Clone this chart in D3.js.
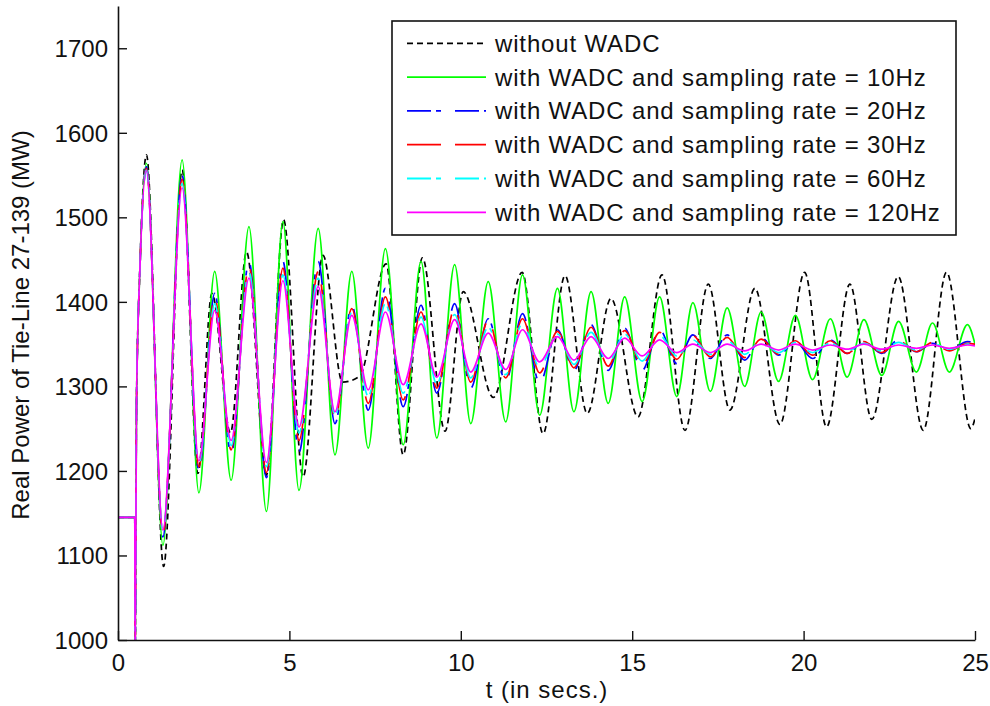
<!DOCTYPE html>
<html>
<head>
<meta charset="utf-8">
<script src="https://cdn.jsdelivr.net/npm/d3@7"></script>
<style>
  html, body { margin: 0; padding: 0; background: #fff; }
  svg { display: block; }
  text { font-family: "Liberation Sans", Arial, sans-serif; fill: #111; }
</style>
</head>
<body>
<svg id="chart" width="990" height="706"></svg>
<script>
// ---- axis ticks ----
const xTicks = [0, 5, 10, 15, 20, 25];
const yTicks = [1000, 1100, 1200, 1300, 1400, 1500, 1600, 1700];

// ---- pre-fault / fault segment shared by every trace (t in s, MW) ----
const tStart = [0, 0.49, 0.5, 0.54, 0.64];
const vStart = [1145, 1145, 985, 1280, 1440];

// ---- swing extrema of the controlled cases (common time base) ----
const tWadc = [0.83, 1.31, 1.87, 2.36, 2.82, 3.3, 3.82, 4.33, 4.81, 5.28,
  5.84, 6.33, 6.82, 7.3, 7.8, 8.32, 8.84, 9.3, 9.82, 10.29,
  10.8, 11.31, 11.8, 12.3, 12.82, 13.3, 13.8, 14.3, 14.78, 15.29,
  15.8, 16.3, 16.77, 17.28, 17.77, 18.28, 18.76, 19.27, 19.76, 20.26,
  20.78, 21.27, 21.76, 22.28, 22.77, 23.29, 23.76, 24.25, 24.78, 25];

const p10Hz = [1564, 1112, 1568, 1174, 1436, 1189, 1489, 1152, 1495, 1177,
  1487, 1219, 1436, 1227, 1463, 1231, 1448, 1239, 1444, 1256,
  1424, 1258, 1432, 1266, 1416, 1270, 1412, 1280, 1406, 1282,
  1406, 1288, 1399, 1294, 1393, 1300, 1388, 1306, 1384, 1308,
  1380, 1311, 1379, 1313, 1377, 1317, 1375, 1317, 1373, 1350];

const p20Hz = [1560, 1122, 1550, 1200, 1410, 1220, 1448, 1192, 1448, 1222,
  1448, 1256, 1396, 1272, 1416, 1276, 1396, 1292, 1398, 1298,
  1380, 1306, 1386, 1304, 1367, 1319, 1373, 1319, 1369, 1319,
  1367, 1327, 1361, 1333, 1361, 1331, 1358, 1337, 1353, 1333,
  1355, 1339, 1353, 1339, 1355, 1341, 1351, 1343, 1353, 1352];

const p30Hz = [1558, 1125, 1545, 1205, 1405, 1225, 1442, 1198, 1440, 1236,
  1436, 1262, 1392, 1280, 1406, 1284, 1388, 1298, 1392, 1305,
  1378, 1310, 1380, 1316, 1365, 1322, 1370, 1324, 1366, 1325,
  1364, 1332, 1360, 1335, 1358, 1334, 1356, 1338, 1354, 1337,
  1354, 1339, 1353, 1340, 1354, 1341, 1352, 1342, 1351, 1350];

const p60Hz = [1556, 1128, 1540, 1208, 1398, 1230, 1436, 1205, 1432, 1245,
  1428, 1266, 1388, 1288, 1398, 1292, 1382, 1303, 1385, 1310,
  1370, 1314, 1375, 1322, 1362, 1326, 1364, 1328, 1362, 1330,
  1360, 1336, 1355, 1338, 1354, 1338, 1353, 1340, 1352, 1340,
  1351, 1342, 1351, 1342, 1352, 1343, 1351, 1344, 1350, 1349];

const p120Hz = [1555, 1130, 1535, 1212, 1390, 1236, 1428, 1210, 1425, 1252,
  1418, 1270, 1384, 1296, 1388, 1302, 1374, 1311, 1379, 1317,
  1363, 1320, 1367, 1329, 1359, 1331, 1359, 1333, 1357, 1336,
  1355, 1340, 1350, 1340, 1350, 1342, 1350, 1343, 1350, 1343,
  1349, 1344, 1350, 1344, 1349, 1345, 1349, 1345, 1349, 1348];

// ---- uncontrolled case (own time base) ----
const tNoWadc = [0.83, 1.33, 1.87, 2.33, 2.74, 3.28, 3.75, 4.33, 4.83, 5.4,
  5.98, 6.55, 7.05, 7.82, 8.32, 8.88, 9.54, 10.07, 10.95, 11.79,
  12.4, 13.04, 13.69, 14.38, 15.17, 15.87, 16.54, 17.22, 17.85, 18.58,
  19.31, 20.03, 20.67, 21.35, 21.99, 22.76, 23.49, 24.17, 24.88, 25];
const pNoWadc = [1574, 1087, 1556, 1197, 1410, 1245, 1459, 1195, 1497, 1193,
  1455, 1305, 1312, 1445, 1219, 1452, 1247, 1412, 1287, 1435,
  1244, 1431, 1268, 1404, 1264, 1432, 1248, 1421, 1272, 1416,
  1255, 1435, 1252, 1421, 1261, 1430, 1248, 1435, 1250, 1262];

const legendLabels = [
  "without WADC",
  "with WADC and sampling rate = 10Hz",
  "with WADC and sampling rate = 20Hz",
  "with WADC and sampling rate = 30Hz",
  "with WADC and sampling rate = 60Hz",
  "with WADC and sampling rate = 120Hz"
];

const toPoints = (ts, vs) =>
  tStart.map((t, i) => [t, vStart[i]]).concat(ts.map((t, i) => [t, vs[i]]));

const series = [
  { pts: toPoints(tNoWadc, pNoWadc), color: "#000000", dash: "6,4" },
  { pts: toPoints(tWadc, p10Hz),  color: "#00ff00", dash: null },
  { pts: toPoints(tWadc, p20Hz),  color: "#0000ff", dash: "24,5,5,14" },
  { pts: toPoints(tWadc, p30Hz),  color: "#ff0000", dash: "34,14" },
  { pts: toPoints(tWadc, p60Hz),  color: "#00ffff", dash: "24,5,5,14" },
  { pts: toPoints(tWadc, p120Hz), color: "#ff00ff", dash: null }
];
series.forEach((s, i) => s.label = legendLabels[i]);

// ---- layout ----
const svg = d3.select("#chart");
const x = d3.scaleLinear().domain([0, 25]).range([118, 975]);
const y = d3.scaleLinear().domain([1000, 1750]).range([640, 6]);

svg.append("defs").append("clipPath").attr("id", "plotClip")
  .append("rect")
  .attr("x", x(0)).attr("y", y(1750))
  .attr("width", x(25) - x(0)).attr("height", y(1000) - y(1750));

// ---- traces ----
const line = d3.line()
  .x(d => x(d[0])).y(d => y(d[1]))
  .curve(d3.curveMonotoneX);

const traces = svg.append("g").attr("clip-path", "url(#plotClip)");
series.forEach(s => {
  traces.append("path")
    .attr("d", line(s.pts))
    .attr("fill", "none")
    .attr("stroke", s.color)
    .attr("stroke-width", 1.7)
    .attr("stroke-dasharray", s.dash)
    .attr("stroke-linejoin", "round");
});

// ---- axes (ticks point inward) ----
const xAxis = d3.axisBottom(x).tickValues(xTicks).tickSizeInner(-9).tickSizeOuter(0)
  .tickPadding(14).tickFormat(d3.format("d"));
const yAxis = d3.axisLeft(y).tickValues(yTicks).tickSizeInner(-9).tickSizeOuter(0)
  .tickPadding(10).tickFormat(d3.format("d"));

const gx = svg.append("g").attr("transform", `translate(0,${y(1000)})`).call(xAxis);
const gy = svg.append("g").attr("transform", `translate(${x(0)},0)`).call(yAxis);

[gx, gy].forEach(g => {
  g.select(".domain").attr("stroke", "#111").attr("stroke-width", 1.6);
  g.selectAll(".tick line").attr("stroke", "#111").attr("stroke-width", 1.4);
  g.selectAll(".tick text")
    .style("font-family", "'Liberation Sans', Arial, sans-serif")
    .style("font-size", "24px").attr("fill", "#111");
});
gx.selectAll(".tick text").attr("dy", "0.71em");
gy.selectAll(".tick text").attr("dy", "0.35em");

// ---- axis titles ----
svg.append("text")
  .attr("x", 547).attr("y", 698)
  .attr("text-anchor", "middle")
  .style("font-size", "24px")
  .style("letter-spacing", "1px")
  .text("t (in secs.)");

svg.append("text")
  .attr("transform", "translate(29,325) rotate(-90)")
  .attr("text-anchor", "middle")
  .style("font-size", "24px")
  .text("Real Power of Tie-Line 27-139 (MW)");

// ---- legend ----
const lg = svg.append("g");
lg.append("rect")
  .attr("x", 392).attr("y", 21)
  .attr("width", 564).attr("height", 214)
  .attr("fill", "#fff").attr("stroke", "#111").attr("stroke-width", 1.6);

series.forEach((s, i) => {
  const cy = 43.3 + i * 33.8;
  lg.append("line")
    .attr("x1", 407).attr("x2", 486)
    .attr("y1", cy).attr("y2", cy)
    .attr("stroke", s.color).attr("stroke-width", 1.8)
    .attr("stroke-dasharray", s.dash);
  lg.append("text")
    .attr("x", 495).attr("y", cy).attr("dy", "0.35em")
    .style("font-size", "24px")
    .style("letter-spacing", "0.85px")
    .text(s.label);
});
</script>
</body>
</html>
